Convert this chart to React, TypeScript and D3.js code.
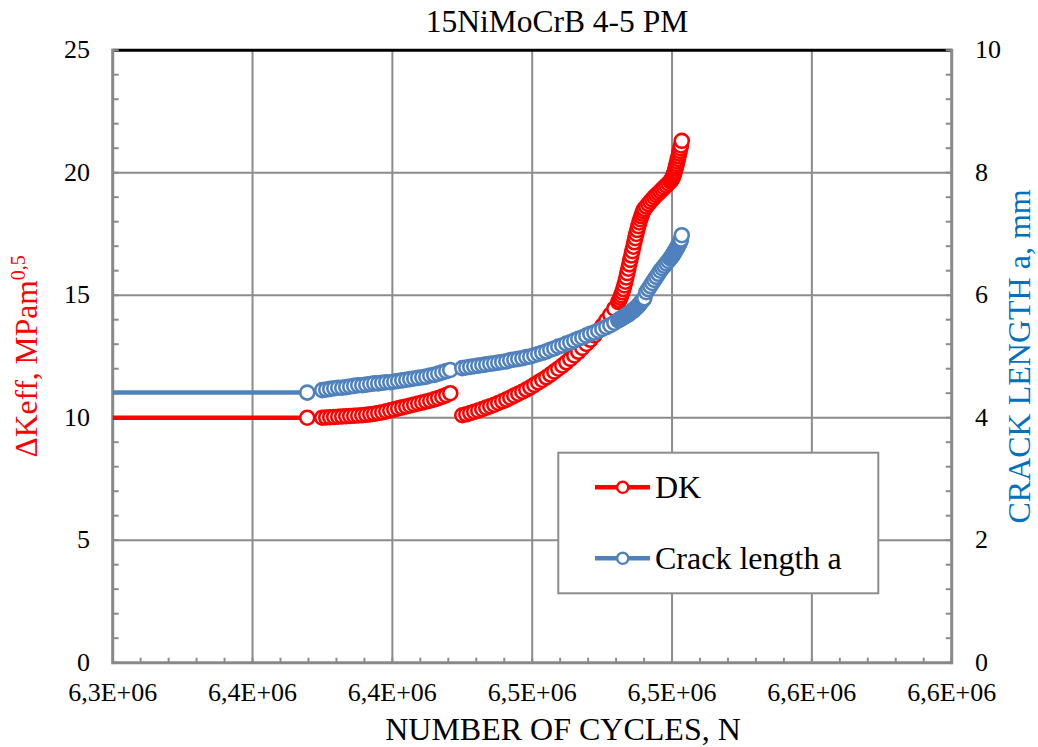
import React from "react";
import * as d3 from "d3";

const chartTitle = "15NiMoCrB 4-5 PM";
const xTitle = "NUMBER OF CYCLES, N";
const rightTitle = "CRACK LENGTH a, mm";
const seriesNames = ["DK", "Crack length a"];

const xTicks = [6300000, 6350000, 6400000, 6450000, 6500000, 6550000, 6600000];
const xTickLabels = ["6,3E+06", "6,4E+06", "6,4E+06", "6,5E+06", "6,5E+06", "6,6E+06", "6,6E+06"];
const leftTicks = [0, 5, 10, 15, 20, 25];
const rightTicks = [0, 2, 4, 6, 8, 10];

// first block of measurements
const cyclesA = [0, 6369560, 6374930, 6376360, 6377790, 6379220, 6380650, 6382080, 6383510, 6384940, 6386370, 6387800, 6389240, 6390670, 6392100, 6393530, 6394960, 6396390, 6397820, 6399250, 6400680, 6402110, 6403540, 6404970, 6406400, 6407830, 6409260, 6410690, 6412120, 6413550, 6414980, 6416410, 6417850, 6419280, 6420710];
const dkA = [10.0, 10.0, 10.00, 10.01, 10.02, 10.03, 10.04, 10.05, 10.06, 10.07, 10.08, 10.09, 10.10, 10.12, 10.14, 10.16, 10.19, 10.22, 10.26, 10.30, 10.34, 10.38, 10.42, 10.46, 10.50, 10.54, 10.58, 10.62, 10.66, 10.70, 10.75, 10.80, 10.86, 10.92, 11.00];
const crackA = [4.41, 4.41, 4.45, 4.46, 4.47, 4.48, 4.49, 4.49, 4.50, 4.51, 4.52, 4.53, 4.53, 4.54, 4.55, 4.56, 4.56, 4.57, 4.58, 4.58, 4.59, 4.60, 4.61, 4.62, 4.63, 4.64, 4.65, 4.66, 4.67, 4.69, 4.70, 4.72, 4.74, 4.76, 4.78];

// second block of measurements
const cyclesB = [
  6425000, 6426430, 6427860, 6429290, 6430720, 6432150, 6433580, 6435010, 6436440, 6437870,
  6439300, 6440740, 6442170, 6443600, 6445030, 6446460, 6447890, 6449320, 6450750, 6452180,
  6453610, 6455040, 6456470, 6457900, 6459330, 6460760, 6462190, 6463620, 6465050, 6466480,
  6467910, 6469340, 6470780, 6472210, 6473640, 6475070, 6476500, 6477930, 6479360, 6480790,
  6481150, 6481510, 6481860, 6482220, 6482580, 6482940, 6483290, 6483650, 6484010, 6484360,
  6484720, 6485080, 6485430, 6485790, 6486150, 6486510, 6486860, 6487220, 6487580, 6487930,
  6488290, 6488650, 6489000, 6489360, 6489720, 6490080,
  6490790, 6491510, 6492220, 6492940, 6493660, 6494370, 6495090, 6495800, 6496520, 6497230,
  6497950, 6498670, 6499380,
  6499740, 6499950, 6500170, 6500380, 6500600, 6500810, 6501030, 6501240, 6501460, 6501670,
  6501880, 6502100, 6502310, 6502530, 6502740, 6502960, 6503170, 6503490,
];
const dkB = [
  10.10, 10.14, 10.19, 10.24, 10.29, 10.35, 10.41, 10.47, 10.53, 10.60,
  10.67, 10.74, 10.82, 10.90, 10.98, 11.06, 11.15, 11.24, 11.34, 11.44,
  11.54, 11.65, 11.76, 11.88, 12.00, 12.13, 12.26, 12.40, 12.54, 12.69,
  12.85, 13.01, 13.18, 13.36, 13.55, 13.75, 13.97, 14.20, 14.45, 14.72,
  14.80, 14.90, 15.00, 15.12, 15.25, 15.40, 15.55, 15.72, 15.90, 16.08,
  16.26, 16.44, 16.62, 16.80, 16.98, 17.16, 17.33, 17.50, 17.66, 17.82,
  17.97, 18.10, 18.22, 18.33, 18.43, 18.52,
  18.62, 18.72, 18.82, 18.91, 19.00, 19.08, 19.16, 19.24, 19.32, 19.40,
  19.48, 19.56, 19.65,
  19.70, 19.74, 19.79, 19.85, 19.92, 20.00, 20.08, 20.17, 20.26, 20.36,
  20.46, 20.56, 20.67, 20.78, 20.89, 21.00, 21.11, 21.30,
];
const crackB = [
  4.81, 4.82, 4.83, 4.84, 4.85, 4.86, 4.87, 4.88, 4.89, 4.90,
  4.91, 4.92, 4.94, 4.95, 4.96, 4.97, 4.99, 5.00, 5.02, 5.04,
  5.06, 5.08, 5.11, 5.13, 5.16, 5.18, 5.21, 5.23, 5.26, 5.29,
  5.31, 5.34, 5.37, 5.39, 5.42, 5.45, 5.48, 5.51, 5.55, 5.59,
  5.60, 5.61, 5.62, 5.63, 5.64, 5.65, 5.66, 5.67, 5.68, 5.69,
  5.70, 5.72, 5.73, 5.74, 5.75, 5.77, 5.78, 5.80, 5.81, 5.83,
  5.85, 5.87, 5.89, 5.91, 5.93, 5.95,
  6.05, 6.10, 6.15, 6.20, 6.25, 6.30, 6.35, 6.40, 6.44, 6.48,
  6.52, 6.56, 6.60,
  6.62, 6.64, 6.65, 6.67, 6.68, 6.70, 6.72, 6.73, 6.75, 6.77,
  6.78, 6.80, 6.82, 6.84, 6.86, 6.88, 6.91, 6.98,
];

const W = 1038;
const H = 747;
const PL = 112.7, PR = 951.7, PT = 50.2, PB = 662.7;
const RED = "#FF0000";
const BLUE = "#4F81BD";
const TITLE_BLUE = "#0070C0";
const GRID = "#8c8c8c";
const FONT = "'Liberation Serif', 'Times New Roman', serif";

type P = [number, number];

export default function App() {
  const x = d3.scaleLinear().domain([6300000, 6600000]).range([PL, PR]);
  const yL = d3.scaleLinear().domain([0, 25]).range([PB, PT]);
  const yR = d3.scaleLinear().domain([0, 10]).range([PB, PT]);

  const dkSegs: P[][] = [
    cyclesA.map((c, i) => [c, dkA[i]] as P),
    cyclesB.map((c, i) => [c, dkB[i]] as P),
  ];
  const crackSegs: P[][] = [
    cyclesA.map((c, i) => [c, crackA[i]] as P),
    cyclesB.map((c, i) => [c, crackB[i]] as P),
  ];

  const lineL = d3.line<P>().x((d) => x(d[0])).y((d) => yL(d[1]));
  const lineR = d3.line<P>().x((d) => x(d[0])).y((d) => yR(d[1]));

  const xMinor = d3.range(6300000, 6600001, 10000);
  const yMinor = d3.range(0, 25.001, 1);
  const yMinorR = d3.range(0, 10.001, 0.4);

  const markerR = 7;
  const markerSW = 2.6;

  return (
    <div style={{ position: "absolute", left: 0, top: 0 }}>
      <svg width={W} height={H} style={{ display: "block", background: "#fff" }} fontFamily={FONT}>
        <defs>
          <clipPath id="plotClip">
            <rect x={PL - 10} y={PT - 10} width={PR - PL + 20} height={PB - PT + 20} />
          </clipPath>
          <clipPath id="lineClip">
            <rect x={PL} y={PT - 10} width={PR - PL} height={PB - PT + 20} />
          </clipPath>
        </defs>

        {/* gridlines */}
        {xTicks.slice(1, -1).map((t) => (
          <line key={"gx" + t} x1={x(t)} x2={x(t)} y1={PT} y2={PB} stroke={GRID} strokeWidth={2} />
        ))}
        {leftTicks.slice(1, -1).map((t) => (
          <line key={"gy" + t} x1={PL} x2={PR} y1={yL(t)} y2={yL(t)} stroke={GRID} strokeWidth={2} />
        ))}

        {/* top border */}
        <line x1={PL} x2={PR} y1={PT} y2={PT} stroke="#000" strokeWidth={3} />

        {/* minor ticks */}
        {xMinor.map((t) => (
          <line key={"mx" + t} x1={x(t)} x2={x(t)} y1={PB} y2={PB - 5} stroke={GRID} strokeWidth={2} />
        ))}
        {yMinor.map((t) => (
          <line key={"myl" + t} x1={PL} x2={PL + 6} y1={yL(t)} y2={yL(t)} stroke={GRID} strokeWidth={2} />
        ))}
        {yMinorR.map((t) => (
          <line key={"myr" + t} x1={PR} x2={PR - 6} y1={yR(t)} y2={yR(t)} stroke={GRID} strokeWidth={2} />
        ))}

        {/* axes */}
        <line x1={PL} x2={PL} y1={PT - 1.5} y2={PB + 1.5} stroke="#898989" strokeWidth={3} />
        <line x1={PR} x2={PR} y1={PT - 1.5} y2={PB + 1.5} stroke="#898989" strokeWidth={3} />
        <line x1={PL} x2={PR} y1={PB} y2={PB} stroke="#898989" strokeWidth={3} />

        {/* DK series */}
        <g clipPath="url(#lineClip)">
          {dkSegs.map((s, i) => (
            <path key={"dl" + i} d={lineL(s) || ""} fill="none" stroke={RED} strokeWidth={4.5} strokeLinejoin="round" />
          ))}
        </g>
        <g clipPath="url(#plotClip)">
          {dkSegs.flat().filter((d) => d[0] >= 6300000).map((d, i) => (
            <circle key={"dm" + i} cx={x(d[0])} cy={yL(d[1])} r={markerR} fill="#fff" stroke={RED} strokeWidth={markerSW} />
          ))}
        </g>

        {/* Crack length series */}
        <g clipPath="url(#lineClip)">
          {crackSegs.map((s, i) => (
            <path key={"cl" + i} d={lineR(s) || ""} fill="none" stroke={BLUE} strokeWidth={4.5} strokeLinejoin="round" />
          ))}
        </g>
        <g clipPath="url(#plotClip)">
          {crackSegs.flat().filter((d) => d[0] >= 6300000).map((d, i) => (
            <circle key={"cm" + i} cx={x(d[0])} cy={yR(d[1])} r={markerR} fill="#fff" stroke={BLUE} strokeWidth={markerSW} />
          ))}
        </g>

        {/* tick labels */}
        {xTicks.map((t, i) => (
          <text key={"xl" + t} x={x(t)} y={701} fontSize={26} textAnchor="middle" fill="#000">
            {xTickLabels[i]}
          </text>
        ))}
        {leftTicks.map((t) => (
          <text key={"yl" + t} x={90} y={yL(t) + 8} fontSize={26} textAnchor="end" fill="#000">
            {t}
          </text>
        ))}
        {rightTicks.map((t) => (
          <text key={"yr" + t} x={975} y={yR(t) + 8} fontSize={26} textAnchor="start" fill="#000">
            {t}
          </text>
        ))}

        {/* titles */}
        <text x={557} y={32} fontSize={31.5} textAnchor="middle" fill="#000">
          {chartTitle}
        </text>
        <text x={563} y={740} fontSize={32} textAnchor="middle" fill="#000">
          {xTitle}
        </text>
        <text transform={`translate(37,${(PT + PB) / 2}) rotate(-90)`} fontSize={31.5} textAnchor="middle" fill={RED}>
          <tspan>ΔKeff, MPam</tspan>
          <tspan fontSize={20} dy={-12}>0,5</tspan>
        </text>
        <text transform={`translate(1030,${(PT + PB) / 2}) rotate(-90)`} fontSize={32} textAnchor="middle" fill={TITLE_BLUE}>
          {rightTitle}
        </text>

        {/* legend */}
        <rect x={558.3} y={452.7} width={320} height={140.6} fill="#fff" stroke={GRID} strokeWidth={2} />
        {[RED, BLUE].map((c, i) => {
          const ly = 487.3 + i * 71;
          return (
            <g key={"lg" + i}>
              <line x1={595} x2={650} y1={ly} y2={ly} stroke={c} strokeWidth={4.5} />
              <circle cx={622.7} cy={ly} r={5.6} fill="#fff" stroke={c} strokeWidth={2.4} />
              <text x={655} y={ly + 11} fontSize={32} fill="#000">
                {seriesNames[i]}
              </text>
            </g>
          );
        })}
      </svg>
    </div>
  );
}
